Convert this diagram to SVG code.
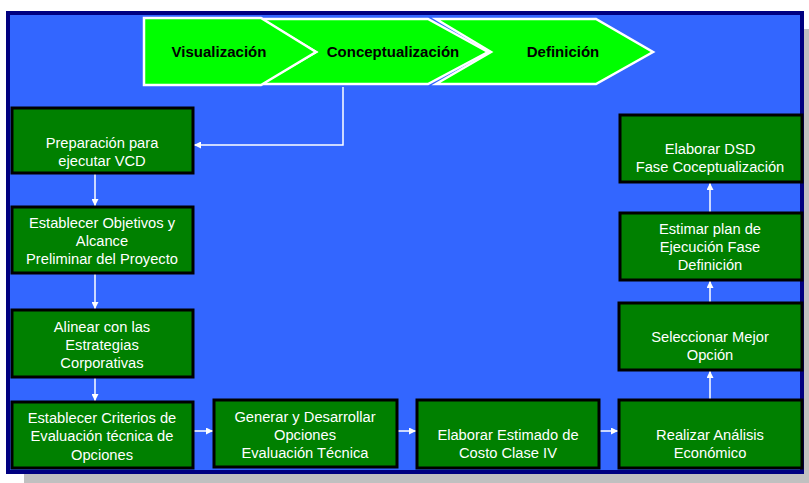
<svg xmlns="http://www.w3.org/2000/svg" width="809" height="483" viewBox="0 0 809 483">
<defs>
<style>
.box{fill:#008000;stroke:#000;stroke-width:3}
.t{font-family:"Liberation Sans",Arial,sans-serif;font-size:14.7px;fill:#fff;text-anchor:middle}
.ch{fill:#00FF00;stroke:#fff;stroke-width:2.5;stroke-linejoin:miter}
.cl{font-family:"Liberation Sans",Arial,sans-serif;font-size:15px;font-weight:bold;fill:#000;text-anchor:middle}
.c{stroke:#fff;stroke-width:1.5;fill:none}
</style>
<marker id="ah" viewBox="0 0 10 10" refX="10" refY="5" markerWidth="7" markerHeight="7" markerUnits="userSpaceOnUse" orient="auto">
<path d="M0,0 L10,5 L0,10 z" fill="#fff"/>
</marker>
</defs>
<rect x="0" y="0" width="809" height="483" fill="#fff"/>
<rect x="24" y="29" width="785" height="454" fill="#C0C0C0"/>
<rect x="8" y="13" width="794" height="459" fill="#3366FF" stroke="#000080" stroke-width="4"/>

<g id="phases">
<polygon class="ch" points="436,19 596,19 653,52 596,84 436,84 491,52"/>
<polygon class="ch" points="261,19 428,19 488,52 428,84 261,84 316,52"/>
<polygon class="ch" points="144,18 261,18 316,52 261,85 144,85"/>
<text class="cl" x="219" y="57">Visualización</text>
<text class="cl" x="393" y="57">Conceptualización</text>
<text class="cl" x="563" y="57">Definición</text>
</g>

<g id="connectors">
<polyline class="c" points="343,87 343,145 194,145" marker-end="url(#ah)"/>
<line class="c" x1="95" y1="174" x2="95" y2="206" marker-end="url(#ah)"/>
<line class="c" x1="95" y1="274" x2="95" y2="309" marker-end="url(#ah)"/>
<line class="c" x1="95" y1="378" x2="95" y2="401" marker-end="url(#ah)"/>
<line class="c" x1="194" y1="431" x2="213" y2="431" marker-end="url(#ah)"/>
<line class="c" x1="398" y1="431" x2="416" y2="431" marker-end="url(#ah)"/>
<line class="c" x1="600" y1="431" x2="618" y2="431" marker-end="url(#ah)"/>
<line class="c" x1="710" y1="399" x2="710" y2="371" marker-end="url(#ah)"/>
<line class="c" x1="710" y1="302" x2="710" y2="281" marker-end="url(#ah)"/>
<line class="c" x1="710" y1="212" x2="710" y2="183" marker-end="url(#ah)"/>
</g>

<g id="n1"><rect class="box" x="12" y="108" width="181" height="65"/>
<text class="t" x="102" y="148">Preparación para</text><text class="t" x="102" y="166">ejecutar VCD</text></g>
<g id="n2"><rect class="box" x="12" y="207" width="181" height="66"/>
<text class="t" x="102" y="228">Establecer Objetivos y</text><text class="t" x="102" y="246">Alcance</text><text class="t" x="102" y="264">Preliminar del Proyecto</text></g>
<g id="n3"><rect class="box" x="12" y="310" width="181" height="67"/>
<text class="t" x="102" y="332">Alinear con las</text><text class="t" x="102" y="350">Estrategias</text><text class="t" x="102" y="368">Corporativas</text></g>
<g id="n4"><rect class="box" x="12" y="402" width="181" height="66"/>
<text class="t" x="102" y="423">Establecer Criterios de</text><text class="t" x="102" y="441">Evaluación técnica de</text><text class="t" x="102" y="460">Opciones</text></g>
<g id="n5"><rect class="box" x="214" y="400" width="183" height="67"/>
<text class="t" x="305" y="422">Generar y Desarrollar</text><text class="t" x="305" y="440">Opciones</text><text class="t" x="305" y="458">Evaluación Técnica</text></g>
<g id="n6"><rect class="box" x="417" y="400" width="182" height="68"/>
<text class="t" x="508" y="440">Elaborar Estimado de</text><text class="t" x="508" y="458">Costo Clase IV</text></g>
<g id="n7"><rect class="box" x="619" y="400" width="183" height="68"/>
<text class="t" x="710" y="440">Realizar Análisis</text><text class="t" x="710" y="458">Económico</text></g>
<g id="n8"><rect class="box" x="619" y="303" width="183" height="67"/>
<text class="t" x="710" y="342">Seleccionar Mejor</text><text class="t" x="710" y="360">Opción</text></g>
<g id="n9"><rect class="box" x="620" y="213" width="182" height="67"/>
<text class="t" x="710" y="234">Estimar plan de</text><text class="t" x="710" y="252">Ejecución Fase</text><text class="t" x="710" y="270">Definición</text></g>
<g id="n10"><rect class="box" x="620" y="115" width="182" height="67"/>
<text class="t" x="710" y="154">Elaborar DSD</text><text class="t" x="710" y="172">Fase Coceptualización</text></g>
</svg>
